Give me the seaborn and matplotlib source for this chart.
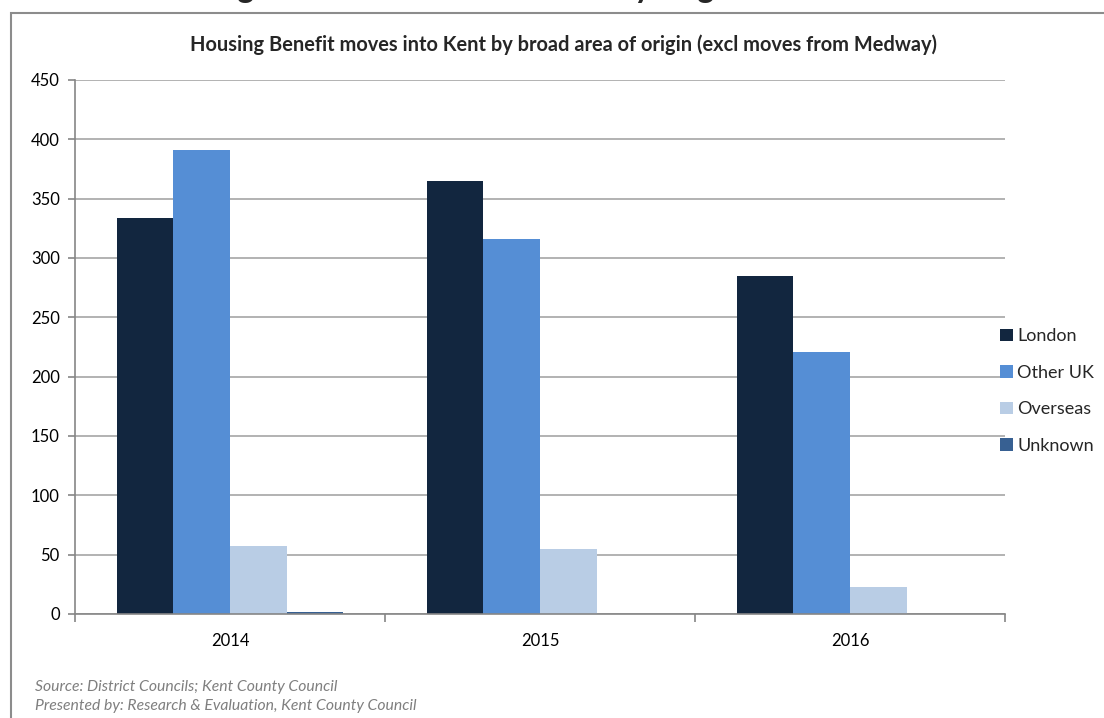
import matplotlib
matplotlib.use("Agg")
import matplotlib.pyplot as plt
from matplotlib.patches import Rectangle
import seaborn as sns
import pandas as pd

# Housing Benefit moves into Kent, by year and broad area of origin
years = ["2014", "2015", "2016"]
origins = ["London", "Other UK", "Overseas", "Unknown"]
london = [334, 365, 285]
other_uk = [391, 316, 221]
overseas = [57, 55, 23]
unknown = [2, 0, 0]

colors = ["#12263F", "#558ED5", "#B9CDE5", "#376092"]

rows = []
for origin, vals in zip(origins, [london, other_uk, overseas, unknown]):
    for yr, v in zip(years, vals):
        rows.append({"Year": yr, "Origin": origin, "Moves": v})
df = pd.DataFrame(rows)

sns.set_theme(style="white")
plt.rcParams["font.family"] = ["Lato", "DejaVu Sans"]

fig = plt.figure(figsize=(11.04, 7.18), dpi=100)
ax = fig.add_axes([75 / 1104, 1 - 614 / 718, 930 / 1104, 534 / 718])

sns.barplot(data=df, x="Year", y="Moves", hue="Origin", order=years,
            hue_order=origins, palette=colors, width=0.73, linewidth=0,
            saturation=1, ax=ax)

ax.set_xlim(-0.5, 2.5)
ax.set_ylim(0, 450)
ax.set_yticks(range(0, 451, 50))
ax.set_axisbelow(True)
ax.grid(axis="y", color="#A6A6A6", linewidth=1.2)
ax.grid(axis="x", visible=False)
ax.set_xlabel("")
ax.set_ylabel("")

for side in ("top", "right"):
    ax.spines[side].set_visible(False)
for side in ("left", "bottom"):
    ax.spines[side].set_color("#868686")
    ax.spines[side].set_linewidth(1.2)

ax.tick_params(axis="y", which="major", length=5, width=1.2, color="#868686",
               labelsize=12, labelcolor="black", pad=6, left=True)
ax.tick_params(axis="x", which="major", length=0, labelsize=12,
               labelcolor="black", pad=14)
ax.set_xticks([-0.5, 0.5, 1.5, 2.5], minor=True)
ax.tick_params(axis="x", which="minor", length=6, width=1.2,
               color="#868686", bottom=True)

leg = ax.legend(loc="center left", bbox_to_anchor=(1000 / 1104, 1 - 391 / 718),
                bbox_transform=fig.transFigure, frameon=False, fontsize=13,
                handlelength=0.7, handleheight=0.7, handletextpad=0.25,
                labelspacing=1.13, borderaxespad=0, borderpad=0)

fig.text(563 / 1104, 1 - 45 / 718,
         "Housing Benefit moves into Kent by broad area of origin (excl moves from Medway)",
         ha="center", va="center", fontsize=14.4, fontweight="bold")

# Heading above the chart frame (runs off the top of the page)
fig.text(14 / 1104, 1 + 2 / 718,
         "Chart 4: Housing Benefit moves into Kent by origin",
         ha="left", va="baseline", fontsize=23, fontweight="bold")

fig.text(35 / 1104, 1 - 687 / 718, "Source: District Councils; Kent County Council",
         ha="left", va="center", fontsize=11.3, style="italic", color="#7F7F7F")
fig.text(35 / 1104, 1 - 706 / 718,
         "Presented by: Research & Evaluation, Kent County Council",
         ha="left", va="center", fontsize=11.3, style="italic", color="#7F7F7F")

# Chart frame
fig.patches.append(Rectangle((11 / 1104, -0.05), 1.2, 1.05 - 13 / 718,
                             transform=fig.transFigure, fill=False,
                             edgecolor="#8C8C8C", linewidth=1.5))

fig.savefig("out.png", dpi=100)
